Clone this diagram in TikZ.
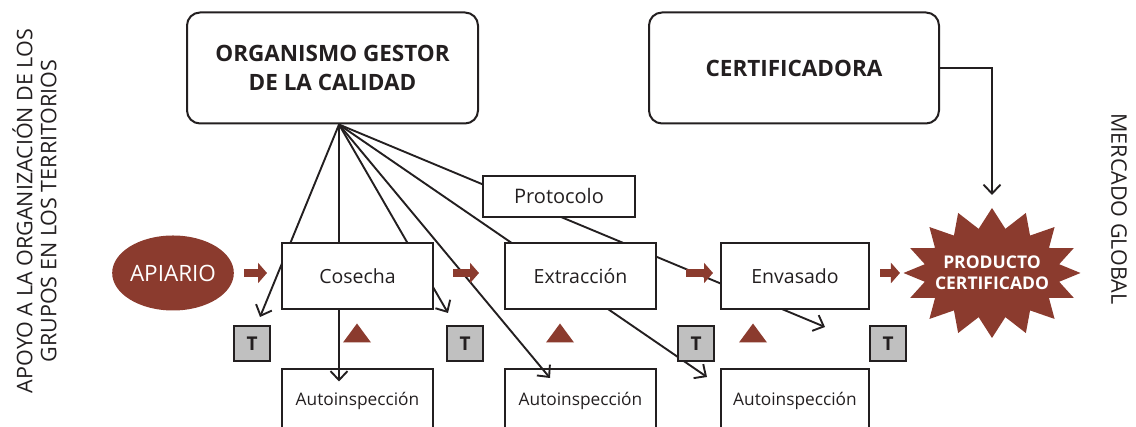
\documentclass[tikz,border=0pt]{standalone}
\usepackage{fontspec}
\setmainfont{Open Sans}
\usepackage{tikz}
\usetikzlibrary{positioning}
\usetikzlibrary{calc}
\usetikzlibrary{arrows.meta}
\usetikzlibrary{shapes.geometric}
\usetikzlibrary{shapes.symbols}

\definecolor{Brick}{RGB}{139,59,46}
\definecolor{TGray}{RGB}{192,192,192}
\definecolor{Ink}{RGB}{35,31,32}

\pgfdeclarelayer{background}
\pgfsetlayers{background,main}

\tikzset{
	stage/.style={draw=Ink, fill=white, line width=2pt, inner sep=0pt,
		text=Ink, font=\fontsize{19.5}{22}\selectfont},
	agency/.style={stage, rounded corners=13pt, align=center,
		minimum width=291pt, minimum height=111pt,
		font=\bfseries\fontsize{22.5}{29}\selectfont},
	inspect/.style={stage, fill=none, minimum width=151pt, minimum height=64pt,
		font=\fontsize{17.3}{20}\selectfont},
	tbox/.style={stage, fill=TGray, minimum width=36pt, minimum height=35pt,
		font=\bfseries\fontsize{19}{22}\selectfont},
	link/.style={draw=Ink, line width=1.9pt, -{Straight Barb[length=9pt, width=17pt]}},
	flow/.style={draw=Brick, line width=8.5pt, -{Triangle[length=9pt, width=20pt]}},
	side/.style={text=Ink, align=center, font=\fontsize{21.5}{24}\selectfont}
}

\begin{document}
\begin{tikzpicture}[x=1pt, y=1pt]

\useasboundingbox (0,0) rectangle (1136,427);
\clip (0,0) rectangle (1136,427);

\node[
	agency
] (gestor) at (332.5,359) {ORGANISMO GESTOR\\DE LA CALIDAD};

\node[
	agency,
	minimum width=290pt,
	right=169pt of gestor
] (certificadora) {CERTIFICADORA};

\node[
	stage,
	minimum width=152pt,
	minimum height=41pt,
	font=\fontsize{20}{22}\selectfont
] (protocolo) at (559,230.5) {Protocolo};

\node[
	stage,
	minimum width=151pt,
	minimum height=66pt
] (cosecha) at (357.5,151) {Cosecha};

\node[
	stage,
	minimum width=151pt,
	minimum height=66pt,
	right=70pt of cosecha
] (extraccion) {Extracción};

\node[
	stage,
	minimum width=148pt,
	minimum height=66pt,
	right=63pt of extraccion
] (envasado) {Envasado};

\node[
	inspect,
	below=58pt of cosecha
] (inspCosecha) {Autoinspección};

\node[
	inspect,
	below=58pt of extraccion
] (inspExtraccion) {Autoinspección};

\node[
	inspect,
	minimum width=148pt,
	below=58pt of envasado
] (inspEnvasado) {Autoinspección};

\node[
	ellipse,
	fill=Brick,
	text=white,
	minimum width=120pt,
	minimum height=75pt,
	inner sep=0pt,
	font=\fontsize{22.5}{24}\selectfont
] (apiario) at (173,154) {APIARIO};

\node[
	starburst,
	starburst points=16,
	starburst point height=20pt,
	random starburst=0,
	fill=Brick,
	text=white,
	align=center,
	minimum width=177pt,
	minimum height=130pt,
	inner sep=-20pt,
	font=\bfseries\fontsize{17.5}{21}\selectfont
] (producto) at (992,154) {PRODUCTO\\CERTIFICADO};

% T marks
\node[tbox] (t1) at (252,83) {T};
\node[tbox] (t2) at (465,83) {T};
\node[tbox] (t3) at (696,83) {T};
\node[tbox] (t4) at (888,83) {T};

% red triangles
\foreach \name/\px in {triCosecha/357, triExtraccion/560, triEnvasado/753} {
	\coordinate (\name) at (\px,94);
	\fill[Brick] (\name) ++(-14,-9.5) -- ++(28,0) -- ++(-14,19) -- cycle;
}

% side labels
\node[
	side,
	rotate=90
] (apoyo) at (34.5,216) {APOYO A LA ORGANIZACIÓN DE LOS\\GRUPOS EN LOS TERRITORIOS};

\node[
	side,
	rotate=-90
] (mercado) at (1119,218) {MERCADO GLOBAL};

% ---

\coordinate (fan) at ($(gestor.south)+(6.5,0)$);
\coordinate (toT1) at (260,110);
\coordinate (toInspCosecha) at ($(fan)+(0,-257)$);
\coordinate (toT2) at (448,114);
\coordinate (toInspExtraccion) at (550,49);
\coordinate (toInspEnvasado) at (707,50);
\coordinate (pastEnvasado) at (825,100);
\coordinate (certIn) at (992,232);

\begin{pgfonlayer}{background}
\foreach \target in {toT1, toInspCosecha, toT2, toInspExtraccion, toInspEnvasado, pastEnvasado}
	\draw[link] (fan) -- (\target);
\end{pgfonlayer}

\draw[link] (certificadora.east) -| (certIn);

\draw[flow, shorten <=10pt, shorten >=14pt] (apiario.east) -- (apiario.east -| cosecha.west);
\draw[flow, shorten <=19pt, shorten >=25pt] (cosecha.east |- apiario) -- (extraccion.west |- apiario);
\draw[flow, shorten <=29pt, shorten >=7pt] (extraccion.east |- apiario) -- (envasado.west |- apiario);
\draw[flow, shorten <=10pt, shorten >=3pt] (envasado.east |- apiario) -- (producto.west |- apiario);

\end{tikzpicture}
\end{document}
